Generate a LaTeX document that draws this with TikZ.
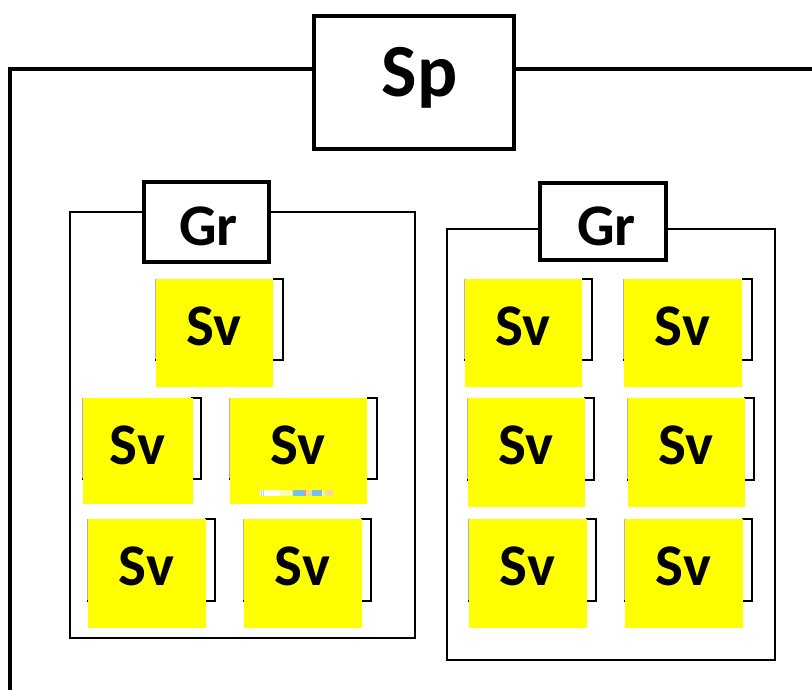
\documentclass[tikz,border=0pt]{standalone}
\usepackage{fontspec}
\setmainfont{Carlito}
\definecolor{svyellow}{RGB}{255,255,0}
\definecolor{stripblue}{RGB}{120,190,240}
\definecolor{striptan}{RGB}{245,215,160}
\begin{document}
\begin{tikzpicture}[x=1pt,y=-1pt,
  thickbox/.style={draw=black,line width=4pt,fill=white,inner sep=0pt},
  grpbox/.style={draw=black,line width=2pt,inner sep=0pt},
  mainline/.style={draw=black,line width=4pt},
  svedge/.style={draw=gray!60,line width=1pt},
  svline/.style={draw=black,line width=2pt},
  svfill/.style={fill=svyellow,draw=none,inner sep=0pt,outer sep=0pt},
  bigtext/.style={font=\bfseries\fontsize{59}{61}\selectfont,inner sep=0pt},
  sptext/.style={font=\bfseries\fontsize{75}{78}\selectfont,inner sep=0pt}]
\useasboundingbox[fill=white] (0,0) rectangle (812,690);

\newcommand\svunit[7]{%
  \draw[svedge] (#2,#5) -- (#2,#3) -- (#4,#3);
  \draw[svline] (#4-10,#3) -- (#4,#3) -- (#4,#5) -- (#2,#5);
  \node[svfill,minimum width={(#6-#2-1)*1pt},minimum height={(#7-#3)*1pt},anchor=north west] (#1) at (#2+1,#3) {};
  \node[bigtext,anchor=base] (#1t) at ({(#2+#6)/2},#3+66) {Sv};
}

% main frame line and Sp
\node[thickbox,minimum width=200pt,minimum height=133pt] (sp) at (414,82.5) {};
\node[sptext,anchor=base] (spt) at (419.5,97) {Sp};
\coordinate (corner) at (10,69);
\coordinate (bottomend) at (10,692);
\coordinate (rightend) at (814,69);
\draw[mainline] (corner -| sp.west) -- (corner) -- (bottomend);
\draw[mainline] (corner -| sp.east) -- (rightend);

% groups
\node[grpbox,minimum width=345pt,minimum height=426pt,anchor=north west] (lgroup) at (69,211) {};
\node[grpbox,minimum width=328pt,minimum height=431pt,anchor=north west] (rgroup) at (446,228) {};
\node[thickbox,minimum width=125pt,minimum height=80pt] (lgr) at (206.5,222) {};
\node[bigtext,anchor=base] (lgrt) at (208.5,245) {Gr};
\node[thickbox,minimum width=126pt,minimum height=77pt] (rgr) at (603,221.5) {};
\node[bigtext,anchor=base] (rgrt) at (606.5,245) {Gr};

% services, left group
\svunit{l1}{155}{279}{283}{360}{273}{387}
\svunit{l2}{82}{398}{201}{479}{193}{504}
\svunit{l3}{229}{398}{377}{479}{367}{504}
\svunit{l4}{87}{519}{215}{601}{206}{628}
\svunit{l5}{243}{519}{371}{601}{362}{628}
% services, right group
\svunit{r1}{464}{279}{592}{360}{582}{387}
\svunit{r2}{623}{279}{752}{360}{742}{387}
\svunit{r3}{467}{398}{594}{480}{585}{507}
\svunit{r4}{627}{398}{754}{480}{745}{507}
\svunit{r5}{468}{519}{596}{601}{587}{628}
\svunit{r6}{624}{519}{752}{601}{743}{628}

% small artifact strip
\fill[white] (260,490) rectangle (292,496);
\fill[gray!40] (261,490) rectangle (262,496);
\fill[blue!20] (263,490) rectangle (264,496);
\fill[yellow!30] (280,490) rectangle (292,496);
\fill[stripblue] (293,490) rectangle (304,496);
\fill[brown!70] (304,490) rectangle (306,496);
\fill[striptan] (306,490) rectangle (312,496);
\fill[stripblue] (312,490) rectangle (322,496);
\fill[yellow!60] (322,490) rectangle (325,496);
\fill[striptan] (325,490) rectangle (333,496);
\end{tikzpicture}
\end{document}
